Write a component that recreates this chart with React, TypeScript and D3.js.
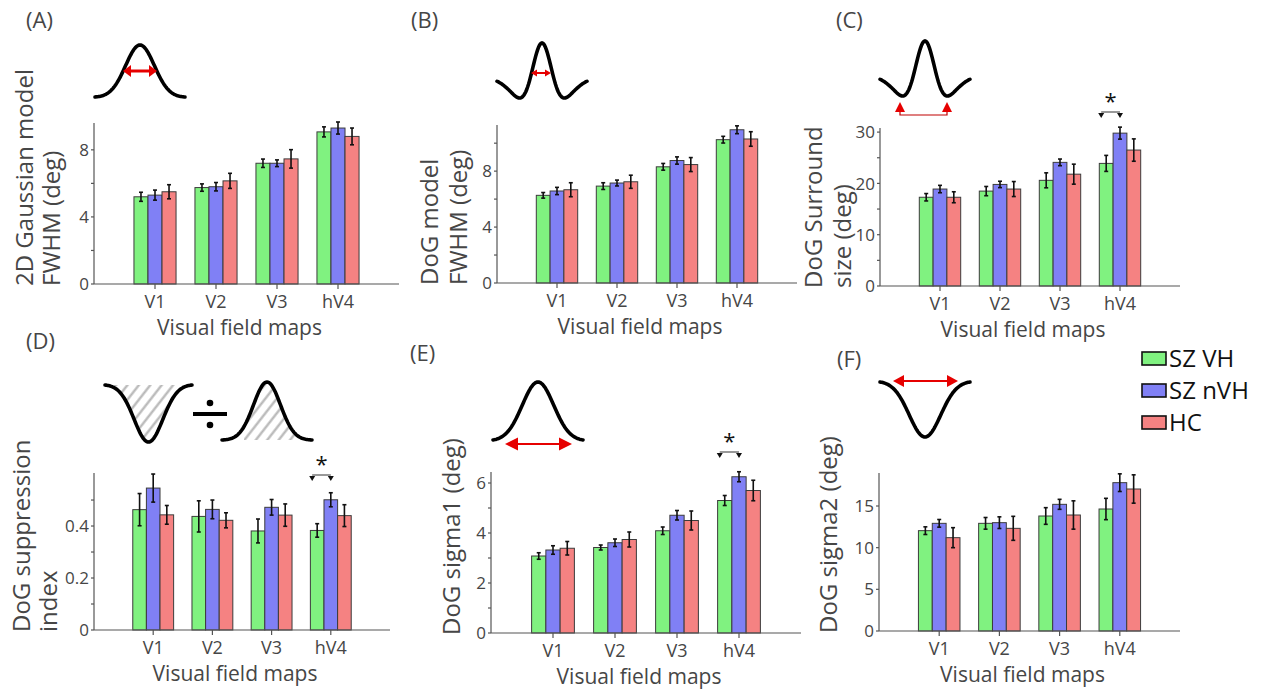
import * as d3 from "d3";

const FONT = "'Open Sans', 'Noto Sans', sans-serif";
const INK = "#464646";

const groups = ["V1", "V2", "V3", "hV4"];
const seriesNames = ["SZ VH", "SZ nVH", "HC"];
const seriesColors = ["#80f280", "#8080f5", "#f58282"];

// rows: SZ VH, SZ nVH, HC ; columns: V1, V2, V3, hV4
const gaussFwhm = [
  [5.2, 5.75, 7.2, 9.07],
  [5.3, 5.8, 7.2, 9.3],
  [5.5, 6.15, 7.46, 8.8],
];
const gaussFwhmErr = [
  [0.27, 0.22, 0.25, 0.3],
  [0.3, 0.25, 0.2, 0.36],
  [0.42, 0.45, 0.55, 0.5],
];

const dogFwhm = [
  [6.27, 6.93, 8.31, 10.25],
  [6.58, 7.15, 8.76, 10.96],
  [6.67, 7.24, 8.47, 10.3],
];
const dogFwhmErr = [
  [0.2, 0.24, 0.24, 0.24],
  [0.26, 0.21, 0.26, 0.28],
  [0.5, 0.47, 0.5, 0.52],
];

const surroundSize = [
  [17.3, 18.5, 20.6, 23.9],
  [18.9, 19.8, 24.1, 29.8],
  [17.3, 18.9, 21.8, 26.5],
];
const surroundSizeErr = [
  [0.72, 0.9, 1.46, 1.56],
  [0.72, 0.62, 0.65, 1.17],
  [1.07, 1.46, 1.95, 2.18],
];

const suppression = [
  [0.463, 0.437, 0.381, 0.383],
  [0.546, 0.464, 0.472, 0.501],
  [0.443, 0.422, 0.442, 0.44],
];
const suppressionErr = [
  [0.062, 0.06, 0.046, 0.026],
  [0.054, 0.036, 0.03, 0.027],
  [0.036, 0.029, 0.043, 0.042],
];

const sigma1 = [
  [3.08, 3.42, 4.09, 5.3],
  [3.32, 3.61, 4.71, 6.25],
  [3.39, 3.74, 4.5, 5.7],
];
const sigma1Err = [
  [0.13, 0.1, 0.15, 0.2],
  [0.17, 0.15, 0.19, 0.2],
  [0.27, 0.3, 0.38, 0.41],
];

const sigma2 = [
  [12.04, 12.92, 13.8, 14.64],
  [12.92, 13.0, 15.2, 17.8],
  [11.2, 12.32, 13.92, 17.04],
];
const sigma2Err = [
  [0.46, 0.7, 1.0, 1.28],
  [0.46, 0.7, 0.6, 1.06],
  [1.2, 1.44, 1.7, 1.7],
];

interface PanelSpec {
  tag: string;
  tagX: number;
  tagY: number;
  mean: number[][];
  err: number[][];
  yMax: number;
  tickMax?: number;
  step: number;
  labelEvery: number;
  left: number;
  right: number;
  top: number;
  bottom: number;
  yTitle: string[];
  titleX: number[];
  sigY?: number;
}

const panels: PanelSpec[] = [
  {
    tag: "(A)", tagX: 26, tagY: 28, mean: gaussFwhm, err: gaussFwhmErr,
    yMax: 9.6, step: 2, labelEvery: 2, left: 94, right: 399, top: 123, bottom: 284,
    yTitle: ["2D Gaussian model", "FWHM (deg)"], titleX: [33, 60],
  },
  {
    tag: "(B)", tagX: 411, tagY: 28, mean: dogFwhm, err: dogFwhmErr,
    yMax: 11.3, step: 2, labelEvery: 2, left: 497, right: 797, top: 125, bottom: 283,
    yTitle: ["DoG model", "FWHM (deg)"], titleX: [438, 467],
  },
  {
    tag: "(C)", tagX: 836, tagY: 28, mean: surroundSize, err: surroundSizeErr,
    yMax: 30.8, step: 5, labelEvery: 2, left: 880, right: 1180, top: 128, bottom: 286,
    yTitle: ["DoG Surround", "size (deg)"], titleX: [822, 851], sigY: 112,
  },
  {
    tag: "(D)", tagX: 26, tagY: 349, mean: suppression, err: suppressionErr,
    yMax: 0.604, tickMax: 0.5, step: 0.1, labelEvery: 2, left: 94, right: 390, top: 473, bottom: 630,
    yTitle: ["DoG suppression", "index"], titleX: [30, 57], sigY: 475,
  },
  {
    tag: "(E)", tagX: 410, tagY: 361, mean: sigma1, err: sigma1Err,
    yMax: 6.44, step: 1, labelEvery: 2, left: 491, right: 801, top: 472, bottom: 633,
    yTitle: ["DoG sigma1 (deg)"], titleX: [460], sigY: 452,
  },
  {
    tag: "(F)", tagX: 837, tagY: 367, mean: sigma2, err: sigma2Err,
    yMax: 18.96, step: 5, labelEvery: 1, left: 879, right: 1180, top: 473, bottom: 631,
    yTitle: ["DoG sigma2 (deg)"], titleX: [837],
  },
];

const BAR = 0.23; // bar width in category units

function Panel({ p }: { p: PanelSpec }) {
  const x = d3.scaleLinear().domain([0, 5]).range([p.left, p.right]);
  const y = d3.scaleLinear().domain([0, p.yMax]).range([p.bottom, p.top]);
  const bw = x(BAR) - x(0);
  const ticks = d3.range(0, (p.tickMax ?? p.yMax) + 1e-9, p.step);
  const barX = (s: number, g: number) => x(g + 1 + (s - 1) * BAR) - bw / 2;

  return (
    <g>
      <text x={p.tagX} y={p.tagY} fontSize={22} fill={INK}>{p.tag}</text>

      {p.mean.map((row, s) =>
        row.map((v, g) => (
          <rect key={`b${s}${g}`} x={barX(s, g)} y={y(v)} width={bw} height={p.bottom - y(v)}
            fill={seriesColors[s]} stroke="#3c3c3c" strokeWidth={1} />
        ))
      )}
      {p.mean.map((row, s) =>
        row.map((v, g) => {
          const cx = barX(s, g) + bw / 2;
          const e = p.err[s][g];
          return (
            <g key={`e${s}${g}`} stroke="#111" strokeWidth={1.6}>
              <line x1={cx} x2={cx} y1={y(v - e)} y2={y(v + e)} />
              <line x1={cx - 2} x2={cx + 2} y1={y(v - e)} y2={y(v - e)} />
              <line x1={cx - 2} x2={cx + 2} y1={y(v + e)} y2={y(v + e)} />
            </g>
          );
        })
      )}

      {/* axes */}
      <line x1={p.left} x2={p.left} y1={p.top} y2={p.bottom} stroke="#555" strokeWidth={1.2} />
      <line x1={p.left} x2={p.right} y1={p.bottom} y2={p.bottom} stroke="#555" strokeWidth={1.2} />
      {ticks.map((t, i) => (
        <g key={`t${i}`}>
          <line x1={p.left - 3} x2={p.left} y1={y(t)} y2={y(t)} stroke="#555" strokeWidth={1.2} />
          {i % p.labelEvery === 0 && (
            <text x={p.left - 5} y={y(t)} dy="0.36em" textAnchor="end" fontSize={17} fill={INK}>
              {String(+t.toFixed(3))}
            </text>
          )}
        </g>
      ))}
      {groups.map((gname, g) => (
        <g key={gname}>
          <line x1={x(g + 1)} x2={x(g + 1)} y1={p.bottom} y2={p.bottom + 5} stroke="#555" strokeWidth={1.2} />
          <text x={x(g + 1)} y={p.bottom + 24} textAnchor="middle" fontSize={18} fill={INK}>{gname}</text>
        </g>
      ))}
      <text x={(p.left + p.right) / 2 - 7} y={p.bottom + 51} textAnchor="middle" fontSize={21} fill={INK}>
        Visual field maps
      </text>
      {p.yTitle.map((t, i) => (
        <text key={t} transform={`translate(${p.titleX[i]},${p.bottom + 2}) rotate(-90)`}
          fontSize={24} fill={INK}>{t}</text>
      ))}

      {p.sigY !== undefined && (() => {
        const xl = barX(0, 3) + bw / 2 - 5;
        const xr = barX(1, 3) + bw / 2;
        const yb = p.sigY;
        return (
          <g>
            <text x={(xl + xr) / 2} y={yb - 3} textAnchor="middle" fontSize={22} fill="#111">*</text>
            <line x1={xl} x2={xr} y1={yb} y2={yb} stroke="#333" strokeWidth={1} />
            <path d={`M${xl - 3},${yb + 1}L${xl + 3},${yb + 1}L${xl},${yb + 6}Z`} fill="#111" />
            <path d={`M${xr - 3},${yb + 1}L${xr + 3},${yb + 1}L${xr},${yb + 6}Z`} fill="#111" />
          </g>
        );
      })()}
    </g>
  );
}

// ---------- receptive-field icons ----------
const bell = (s: number) => (u: number) => Math.exp(-(u * u) / (2 * s * s));
const dip = (s: number) => (u: number) => -Math.exp(-(u * u) / (2 * s * s));
const dog = (u: number) => Math.exp(-(u * u) / 0.0968) - 0.6 * Math.exp(-(u * u) / 0.405);

function curveD(f: (u: number) => number, x0: number, x1: number, yTop: number, yBot: number) {
  const us = d3.range(-1, 1.0001, 0.02);
  const vals = us.map(f);
  const xs = d3.scaleLinear().domain([-1, 1]).range([x0, x1]);
  const ys = d3.scaleLinear().domain([d3.min(vals)!, d3.max(vals)!]).range([yBot, yTop]);
  return d3.line()(us.map((u, i) => [xs(u), ys(vals[i])] as [number, number]))!;
}

function Curve(props: { f: (u: number) => number; x0: number; x1: number; yTop: number; yBot: number }) {
  return (
    <path d={curveD(props.f, props.x0, props.x1, props.yTop, props.yBot)} fill="none"
      stroke="#000" strokeWidth={3.6} strokeLinecap="round" />
  );
}

function DoubleArrow({ x1, x2, y, head, half, lw }: { x1: number; x2: number; y: number; head: number; half: number; lw: number }) {
  return (
    <g fill="#e60000" stroke="none">
      <line x1={x1 + head - 1} x2={x2 - head + 1} y1={y} y2={y} stroke="#e60000" strokeWidth={lw} />
      <path d={`M${x1},${y}L${x1 + head},${y - half}L${x1 + head},${y + half}Z`} />
      <path d={`M${x2},${y}L${x2 - head},${y - half}L${x2 - head},${y + half}Z`} />
    </g>
  );
}

function Icons() {
  return (
    <g>
      <defs>
        <pattern id="hatch" patternUnits="userSpaceOnUse" width={9} height={9} patternTransform="rotate(38)">
          <line x1={4.5} x2={4.5} y1={0} y2={9} stroke="#b4b4b4" strokeWidth={2.2} />
        </pattern>
        <clipPath id="rightHalf">
          <rect x={244} y={370} width={80} height={80} />
        </clipPath>
      </defs>

      {/* A */}
      <Curve f={bell(0.32)} x0={95} x1={185} yTop={45} yBot={97} />
      <DoubleArrow x1={123} x2={157} y={71} head={8} half={6} lw={3} />

      {/* B */}
      <Curve f={dog} x0={497} x1={587} yTop={43} yBot={98} />
      <DoubleArrow x1={531} x2={551} y={73} head={6} half={3.5} lw={2} />

      {/* C */}
      <Curve f={dog} x0={880} x1={970} yTop={41} yBot={96} />
      <path d="M900,111V115H947V111" fill="none" stroke="#c00000" strokeWidth={1.2} />
      <path d="M900,102L905,112L895,112Z" fill="#e60000" />
      <path d="M947,102L952,112L942,112Z" fill="#e60000" />

      {/* D */}
      <path d={curveD(dip(0.33), 105, 192, 385, 442) + "Z"} fill="url(#hatch)" stroke="none" />
      <Curve f={dip(0.33)} x0={105} x1={192} yTop={385} yBot={442} />
      <line x1={193} x2={227} y1={414} y2={414} stroke="#000" strokeWidth={4} />
      <circle cx={210} cy={403} r={3.3} fill="#000" />
      <circle cx={210} cy={425} r={3.3} fill="#000" />
      <path d={curveD(bell(0.3), 222, 312, 382, 440) + "Z"} fill="url(#hatch)" stroke="none"
        clipPath="url(#rightHalf)" />
      <Curve f={bell(0.3)} x0={222} x1={312} yTop={382} yBot={440} />

      {/* E */}
      <Curve f={bell(0.35)} x0={493} x1={583} yTop={382} yBot={440} />
      <DoubleArrow x1={505} x2={572} y={444} head={13} half={6.5} lw={2} />

      {/* F */}
      <Curve f={dip(0.35)} x0={880} x1={970} yTop={382} yBot={437} />
      <DoubleArrow x1={893} x2={958} y={381} head={11} half={6} lw={2} />
    </g>
  );
}

function Legend() {
  const rowY = d3.scaleLinear().domain([0, 2]).range([358.5, 422.5]);
  return (
    <g>
      {seriesNames.map((name, i) => (
        <g key={name}>
          <rect x={1142} y={rowY(i) - 6.5} width={24} height={13} fill={seriesColors[i]}
            stroke="#111" strokeWidth={1.6} />
          <text x={1169} y={rowY(i) + 8.5} fontSize={24} fill="#111">{name}</text>
        </g>
      ))}
    </g>
  );
}

export default function App() {
  return (
    <svg width={1265} height={690} viewBox="0 0 1265 690" fontFamily={FONT}
      style={{ position: "absolute", left: 0, top: 0, background: "#fff" }}>
      <rect width={1265} height={690} fill="#fff" />
      <Icons />
      {panels.map((p) => (
        <Panel key={p.tag} p={p} />
      ))}
      <Legend />
    </svg>
  );
}
